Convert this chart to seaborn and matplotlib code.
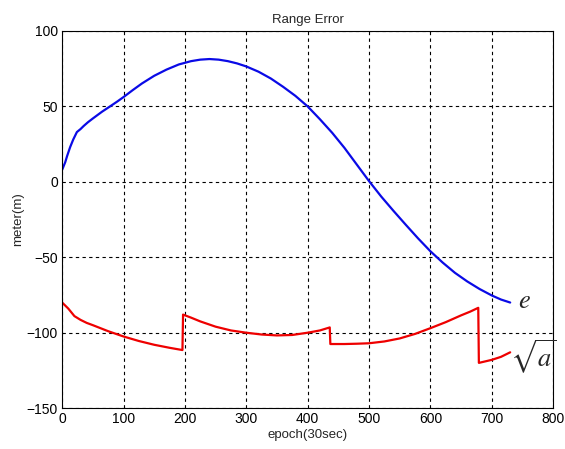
import numpy as np
import pandas as pd
import matplotlib
matplotlib.use("Agg")
import matplotlib.pyplot as plt
import seaborn as sns

# e (blue) series
e_epoch = [0, 2, 5, 8, 13, 18, 24, 30, 35, 42, 50, 65, 78, 90, 100, 115, 130, 150,
           170, 190, 210, 225, 240, 255, 270, 285, 300, 320, 340, 360, 380, 400,
           420, 440, 460, 480, 500, 520, 540, 560, 580, 600, 620, 640, 660, 680,
           700, 715, 730]
e_err = [8, 10, 13, 17, 23, 28, 33, 35, 37, 39.5, 42, 46.5, 50, 53.3, 56.2, 60.8,
         65.2, 70.3, 74.4, 77.8, 80, 81, 81.4, 81, 80, 78.5, 76.5, 73, 68.5, 63, 57,
         50, 41.5, 32.5, 22.5, 11.5, 0.5, -9.8, -19.3, -28.5, -37.5, -46, -53.5,
         -60.3, -66, -71, -75.3, -78, -80]

# sqrt(a) (red) series
a_epoch = [0, 5, 10, 15, 20, 30, 40, 50, 75, 100, 125, 150, 175, 196, 197, 210, 225,
           250, 275, 300, 325, 350, 375, 400, 420, 436, 437, 460, 480, 500, 525, 550,
           575, 600, 625, 650, 665, 678, 679, 700, 715, 730]
a_err = [-80, -82, -84, -86.5, -89, -91.5, -93.5, -95, -99, -102.5, -105.5, -108,
         -110, -111.5, -88, -90, -92.5, -96, -98.5, -100, -101.2, -101.8, -101.5,
         -100, -98.5, -96.5, -107.5, -107.5, -107.3, -107, -105.8, -103.8, -100.8,
         -97, -93, -88.5, -86, -83.5, -120, -118, -116, -113]

x_ticks = [0, 100, 200, 300, 400, 500, 600, 700, 800]
y_ticks = [-150, -100, -50, 0, 50, 100]

sns.set_style("white")
plt.rcParams['font.family'] = ['Liberation Sans', 'DejaVu Sans']
plt.rcParams['mathtext.fontset'] = 'stix'

fig = plt.figure(figsize=(5.65, 4.49), dpi=100)
ax = fig.add_axes([0.110, 0.091, 0.869, 0.840])

df_e = pd.DataFrame({"epoch": e_epoch, "err": e_err})
df_a = pd.DataFrame({"epoch": a_epoch, "err": a_err})
sns.lineplot(data=df_e, x="epoch", y="err", ax=ax, color="#0a0ae6", lw=1.6,
             sort=False, estimator=None)
sns.lineplot(data=df_a, x="epoch", y="err", ax=ax, color="#ee0000", lw=1.6,
             sort=False, estimator=None)

ax.set_xlim(0, 800)
ax.set_ylim(-150, 100)
ax.set_xticks(x_ticks)
ax.set_yticks(y_ticks)
ax.tick_params(direction="in", length=4, labelsize=10, colors="black", pad=3)
ax.grid(True, color="black", linestyle=(0, (3, 3)), linewidth=0.8)
for s in ax.spines.values():
    s.set_color("black")
    s.set_linewidth(0.8)
ax.set_xlabel("epoch(30sec)", fontsize=9.5, labelpad=2)
ax.set_ylabel("meter(m)", fontsize=9.5, labelpad=2)
ax.set_title("Range Error", fontsize=9.5, pad=6)

ax.text(743, -79, "$e$", fontsize=19, va="center", ha="left", clip_on=False)
ax.text(730, -116, r"$\sqrt{a}$", fontsize=19, va="center", ha="left",
        clip_on=False)

fig.savefig("out.png", dpi=100)
